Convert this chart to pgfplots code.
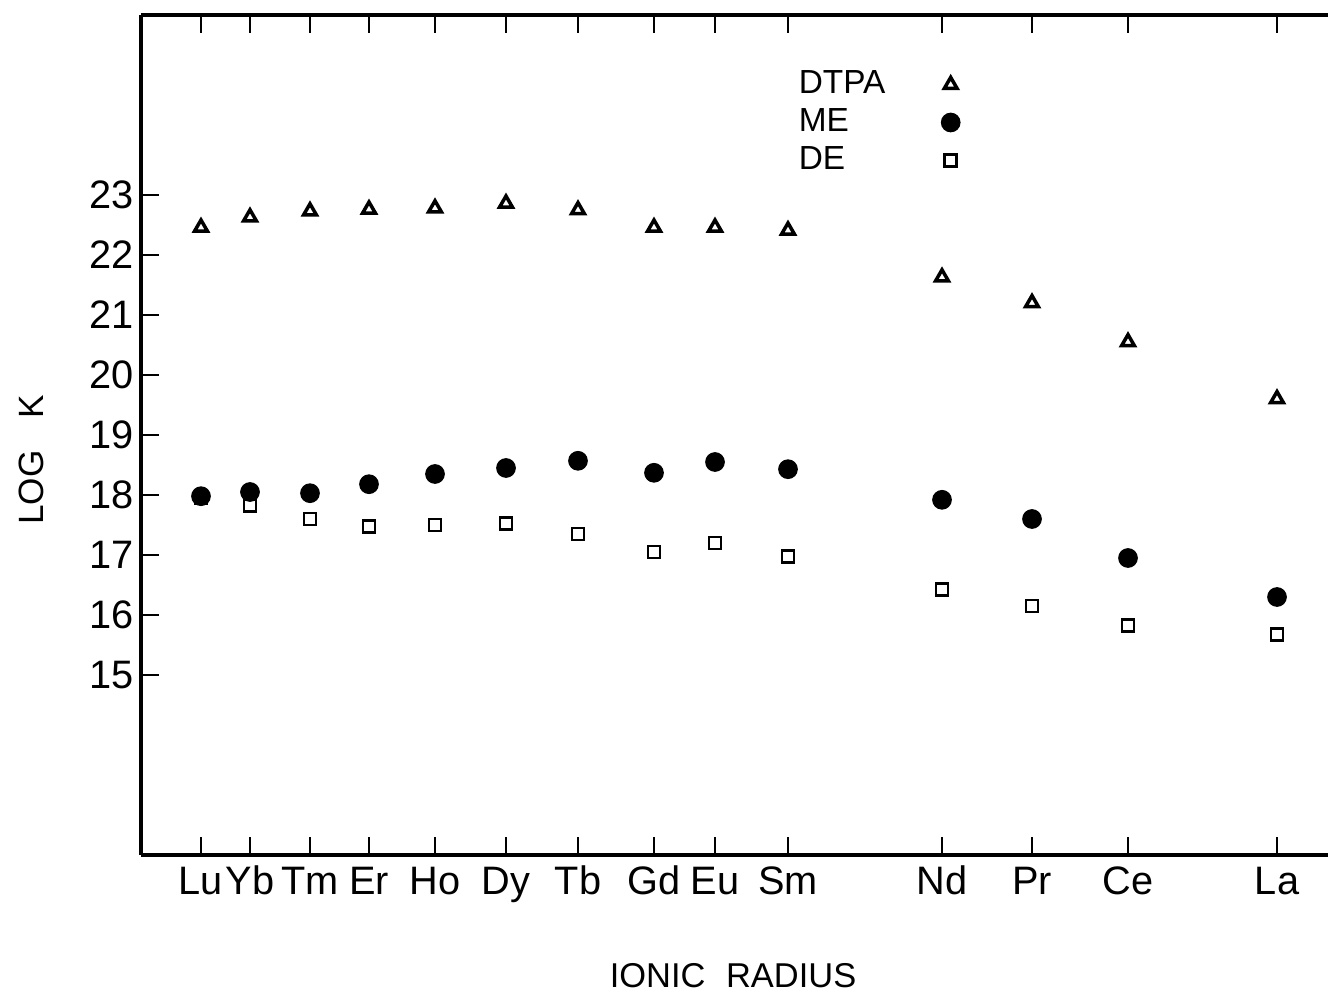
\documentclass[border=0pt]{standalone}
\usepackage{pgfplots}
\usepackage{pgfplotstable}
\pgfplotsset{compat=1.18}
\usepackage{fontspec}
\setmainfont{Liberation Sans}

\pgfplotstableread{
x DTPA ME DE
201 22.46 17.98 17.95
250 22.63 18.05 17.82
310 22.73 18.03 17.60
369 22.76 18.18 17.48
435 22.78 18.35 17.50
506 22.86 18.45 17.53
578 22.75 18.57 17.35
654 22.46 18.37 17.05
715 22.46 18.55 17.20
788 22.41 18.43 16.97
942 21.63 17.92 16.43
1032 21.20 17.60 16.15
1128 20.55 16.95 15.83
1277 19.60 16.30 15.68
}\data

\begin{document}
\begin{tikzpicture}
\begin{axis}[
  scale only axis,
  width=11.97cm, height=8.40cm,
  xmin=141, xmax=1338, ymin=12, ymax=26,
  axis x line*=box, axis y line*=left,
  axis line style={line width=0.9pt, -},
  tick style={line width=0.8pt, black},
  major tick length=5.2pt,
  tick align=inside,
  xtick pos=both, ytick pos=both,
  xtick={201,250,310,369,435,506,578,654,715,788,942,1032,1128,1277},
  xticklabels={Lu,Yb,Tm,Er,Ho,Dy,Tb,Gd,Eu,Sm,Nd,Pr,Ce,La},
  ytick={15,16,17,18,19,20,21,22,23},
  yticklabels={15,16,17,18,19,20,21,22,23},
  xticklabel pos=lower, yticklabel pos=left,
  xticklabel style={font=\fontsize{11.3}{11.3}\selectfont, inner sep=0pt, anchor=base, yshift=-11.3pt},
  yticklabel style={font=\fontsize{11.3}{11.3}\selectfont, inner sep=0pt, xshift=-1.8pt},
  xlabel={IONIC\hspace{0.6em}RADIUS},
  xlabel style={at={([yshift=-1.21cm]axis cs:733,12)}, anchor=center, font=\fontsize{9.8}{9.8}\selectfont},
  ylabel={LOG\hspace{0.9em}K},
  ylabel style={at={([xshift=-1.10cm]axis cs:141,18.58)}, anchor=center, font=\fontsize{10}{10}\selectfont},
  legend plot pos=right,
  legend cell align=left,
  legend style={draw=none, fill=none, at={(axis cs:784,25.26)}, anchor=north west,
    font=\fontsize{9.5}{9.5}\selectfont, row sep=0.7pt, column sep=15pt,
    nodes={inner sep=1pt}},
]
\addplot[only marks, mark=triangle, mark size=2.1pt, line width=1pt, black] table[x=x, y=DTPA] {\data};
\addlegendentry{DTPA}
\addplot[only marks, mark=*, mark size=2.6pt, black, fill=black] table[x=x, y=ME] {\data};
\addlegendentry{ME}
\addplot[only marks, mark=square, mark size=1.7pt, line width=0.8pt, black] table[x=x, y=DE] {\data};
\addlegendentry{DE}
\coordinate (SW) at (axis cs:141,12);
\coordinate (NE) at (axis cs:1338,26);
\end{axis}
\pgfresetboundingbox
\path[use as bounding box] ([xshift=-1.41cm,yshift=-1.44cm]SW) rectangle ([xshift=-0.10cm,yshift=0.15cm]NE);
\end{tikzpicture}
\end{document}
